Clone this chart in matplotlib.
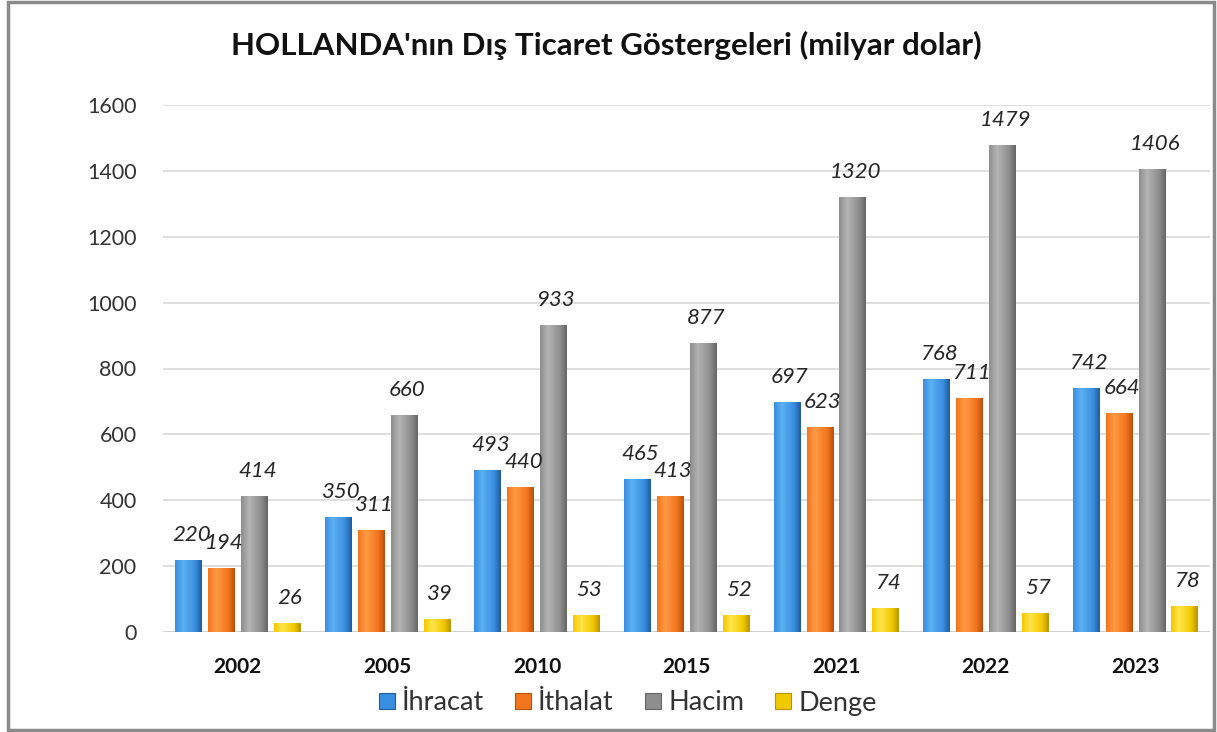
import numpy as np
import matplotlib
matplotlib.use("Agg")
import matplotlib.pyplot as plt
from matplotlib.colors import LinearSegmentedColormap
from matplotlib.patches import Rectangle
from matplotlib.lines import Line2D

years = ["2002", "2005", "2010", "2015", "2021", "2022", "2023"]
ihracat = [220, 350, 493, 465, 697, 768, 742]
ithalat = [194, 311, 440, 413, 623, 711, 664]
hacim = [414, 660, 933, 877, 1320, 1479, 1406]
denge = [26, 39, 53, 52, 74, 57, 78]
series_names = ["İhracat", "İthalat", "Hacim", "Denge"]
series_values = [ihracat, ithalat, hacim, denge]
yticks = [0, 200, 400, 600, 800, 1000, 1200, 1400, 1600]

# (dark, light, base) per series
palettes = [
    ("#1f5c9e", "#5cb0f2", "#3a8ee0"),
    ("#b9500c", "#ff9a45", "#f2761e"),
    ("#666666", "#b4b4b4", "#8e8e8e"),
    ("#b89400", "#ffe54a", "#f2c800"),
]

plt.rcParams['font.family'] = ['Lato', 'DejaVu Sans']

W, H = 1217, 732
fig = plt.figure(figsize=(W / 100, H / 100), dpi=100)
ax = fig.add_axes([163 / W, 1 - 632 / H, (1210 - 163) / W, (632 - 105) / H])

x = np.arange(len(years))
pitch = 0.22
width = 0.175
offsets = [-1.5, -0.5, 0.5, 1.5]

grad = np.linspace(0, 1, 64)
for vals, off, (dark, light, base), name in zip(series_values, offsets, palettes, series_names):
    cmap = LinearSegmentedColormap.from_list(
        name, [(0, base), (0.3, light), (0.75, base), (1, dark)])
    bars = ax.bar(x + off * pitch, vals, width, color=base, edgecolor='none', zorder=2)
    for b, v in zip(bars, vals):
        x0, y0 = b.get_x(), b.get_y()
        w, h = b.get_width(), b.get_height()
        im = ax.imshow(grad[np.newaxis, :], cmap=cmap, aspect='auto',
                       extent=(x0, x0 + w, y0, y0 + h), zorder=3, interpolation='bilinear')
        im.set_clip_path(b)
        ax.annotate(f"{v}", (x0 + w / 2, v), xytext=(3, 25), textcoords='offset pixels',
                    ha='center', va='center', fontsize=16, style='italic',
                    color='#262626', zorder=5)

ax.set_xlim(-0.5, len(years) - 0.5)
ax.set_ylim(0, 1600)
ax.set_yticks(yticks)
ax.set_yticklabels([str(t) for t in yticks], fontsize=15.5, color='#333333')
ax.set_xticks(x)
ax.set_xticklabels(years, fontsize=15, fontweight='bold', color='#111111')
ax.tick_params(axis='both', length=0)
ax.tick_params(axis='y', pad=19)
ax.tick_params(axis='x', pad=18)
for s in ax.spines.values():
    s.set_visible(False)
ax.grid(axis='y', color='#d9d9d9', linewidth=1.2, zorder=0)
ax.set_axisbelow(True)
ax.axhline(0, color='#d0d0d0', linewidth=1.2, zorder=1)

fig.text(606 / W, 1 - 45 / H, "HOLLANDA'nın Dış Ticaret Göstergeleri (milyar dolar)",
         ha='center', va='center', fontsize=22.5, fontweight='bold', color='#111111')

handles = [Line2D([0], [0], marker='s', linestyle='none', markersize=12,
                  markerfacecolor=p[2], markeredgecolor=p[0], markeredgewidth=0.8)
           for p in palettes]
fig.legend(handles, series_names, loc='center', bbox_to_anchor=(625 / W, 1 - 703 / H),
           ncol=4, frameon=False, fontsize=19.5, handletextpad=0.05, columnspacing=0.95,
           handlelength=1.0, labelcolor='#333333')

fig.patches.append(Rectangle((8 / W, 2 / H), (1214 - 8) / W, (730 - 2) / H,
                             transform=fig.transFigure, fill=False,
                             edgecolor='#8a8a8a', linewidth=2.5))

fig.savefig("out.png", dpi=100, facecolor='white')
